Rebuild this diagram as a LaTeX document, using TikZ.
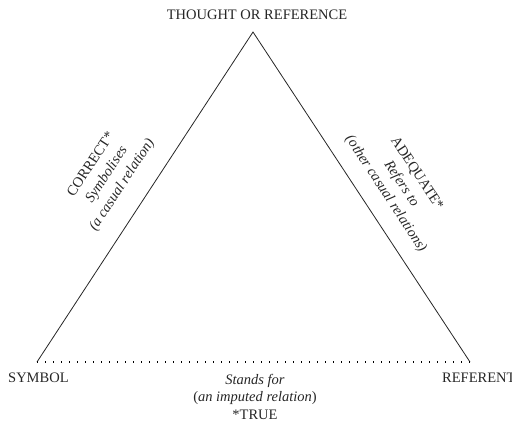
\documentclass[tikz,border=0pt]{standalone}
\usepackage{fontspec}
\setmainfont{Liberation Serif}
\begin{document}
\begin{tikzpicture}[x=1pt,y=-1pt,
  lbl/.style={inner sep=0pt,text=black!85,font=\fontsize{14.5}{17.5}\selectfont,align=center},
  rlbl/.style={lbl,font=\fontsize{14.5}{18.5}\selectfont},
  edge/.style={draw=black!85,line width=0.8pt}]
\useasboundingbox (0,0) rectangle (512,424);
\coordinate (T) at (253,32);
\coordinate (L) at (37,362);
\coordinate (R) at (470,362);
\draw[edge] (L) -- (T) -- (R);
\draw[black,line width=1.3pt,dash pattern=on 1.4pt off 6.6pt] (L) -- (R);
\node[lbl] (top) at (257,15) {THOUGHT OR REFERENCE};
\node[lbl,anchor=west] (sym) at (8,378) {SYMBOL};
\node[lbl,anchor=west] (ref) at (442,378) {REFERENT};
\node[lbl,anchor=north] (bot) at (255,374) {\textit{Stands for}\\(\textit{an imputed relation})\\*TRUE};
\node[rlbl,rotate=56.8] (left) at (107,175) {CORRECT*\\\textit{Symbolises}\\\textit{(a casual relation)}};
\node[rlbl,rotate=-56.7] (right) at (401,184) {ADEQUATE*\\\textit{Refers to}\\\textit{(other casual relations)}};
\end{tikzpicture}
\end{document}
